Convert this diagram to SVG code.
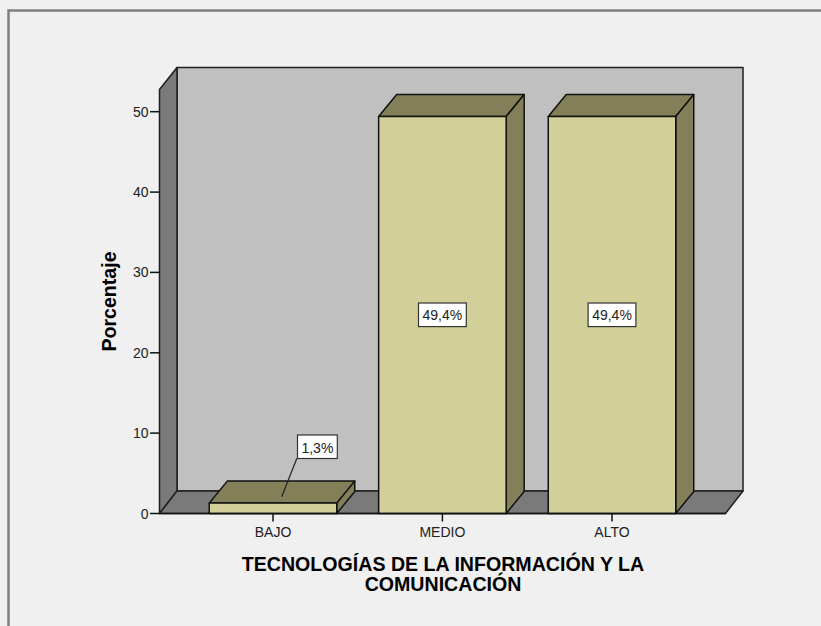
<svg xmlns="http://www.w3.org/2000/svg" width="821" height="626" viewBox="0 0 821 626">
<style>
.wall{fill:#c0c0c0;stroke:#1e1e1e;stroke-width:1.5;stroke-linejoin:round}
.dark{fill:#7a7a7a;stroke:#1e1e1e;stroke-width:1.5;stroke-linejoin:round}
.front{fill:#d3cf98;stroke:#111;stroke-width:1.5;stroke-linejoin:round}
.shade{fill:#838059;stroke:#111;stroke-width:1.5;stroke-linejoin:round}
.tick{stroke:#111;stroke-width:1.5}
.t{font-family:"Liberation Sans",Arial,sans-serif;font-size:14px;fill:#222}
.b{font-family:"Liberation Sans",Arial,sans-serif;font-size:19.6px;font-weight:bold;fill:#000}
.lbl{fill:#fff;stroke:#333;stroke-width:1.2}
</style>
<rect width="821" height="626" fill="#f0f0f0"/>
<path d="M8.5,626 V10.5 H821" fill="none" stroke="#7f7f7f" stroke-width="2.5"/>
<g id="chart-frame">
<rect class="wall" x="177" y="67.5" width="566" height="423.5"/>
<polygon class="dark" points="159.5,89.5 177,67.5 177,491 159.5,513.5"/>
<polygon class="dark" points="159.5,513.5 177,491 743,491 725.5,513.5"/>
</g>
<g id="y-axis">
<g class="tick">
<line x1="150" y1="513.5" x2="159.5" y2="513.5"/>
<line x1="150" y1="433.1" x2="159.5" y2="433.1"/>
<line x1="150" y1="352.8" x2="159.5" y2="352.8"/>
<line x1="150" y1="272.4" x2="159.5" y2="272.4"/>
<line x1="150" y1="192.1" x2="159.5" y2="192.1"/>
<line x1="150" y1="111.7" x2="159.5" y2="111.7"/>
</g>
<g class="t" text-anchor="end">
<text x="148.5" y="518.5">0</text>
<text x="148.5" y="438.1">10</text>
<text x="148.5" y="357.8">20</text>
<text x="148.5" y="277.4">30</text>
<text x="148.5" y="197.1">40</text>
<text x="148.5" y="116.7">50</text>
</g>
<text class="b" text-anchor="middle" transform="translate(116,301.5) rotate(-90)">Porcentaje</text>
</g>
<g id="bar-bajo">
<polygon class="shade" points="209.25,503.1 227.25,481.1 354.75,481.1 336.75,503.1"/>
<polygon class="shade" points="336.75,503.1 354.75,481.1 354.75,491.5 336.75,513.5"/>
<rect class="front" x="209.25" y="503.1" width="127.5" height="10.4"/>
</g>
<g id="bar-medio">
<polygon class="shade" points="378.65,116.5 396.65,94.5 524.15,94.5 506.15,116.5"/>
<polygon class="shade" points="506.15,116.5 524.15,94.5 524.15,491.5 506.15,513.5"/>
<rect class="front" x="378.65" y="116.5" width="127.5" height="397"/>
</g>
<g id="bar-alto">
<polygon class="shade" points="548.25,116.5 566.25,94.5 693.75,94.5 675.75,116.5"/>
<polygon class="shade" points="675.75,116.5 693.75,94.5 693.75,491.5 675.75,513.5"/>
<rect class="front" x="548.25" y="116.5" width="127.5" height="397"/>
</g>
<g id="x-axis">
<line class="tick" x1="159.5" y1="513.5" x2="725.5" y2="513.5"/>
<g class="tick">
<line x1="273" y1="513.5" x2="273" y2="521.5"/>
<line x1="442.4" y1="513.5" x2="442.4" y2="521.5"/>
<line x1="612" y1="513.5" x2="612" y2="521.5"/>
</g>
<g class="t" text-anchor="middle">
<text x="273" y="537">BAJO</text>
<text x="442.4" y="537">MEDIO</text>
<text x="612" y="537">ALTO</text>
</g>
<text class="b" text-anchor="middle" x="443" y="571">TECNOLOGÍAS DE LA INFORMACIÓN Y LA</text>
<text class="b" text-anchor="middle" x="443" y="590.5">COMUNICACIÓN</text>
</g>
<g id="connectors">
<line x1="296.8" y1="458.5" x2="281.7" y2="496.7" stroke="#222" stroke-width="1.2"/>
</g>
<g id="label-bajo">
<rect class="lbl" x="297.5" y="435" width="39.8" height="23.5"/>
<text class="t" x="317.4" y="452.5" text-anchor="middle" fill="#000">1,3%</text>
</g>
<g id="label-medio">
<rect class="lbl" x="418.5" y="303" width="47.8" height="23.6"/>
<text class="t" x="442.4" y="319.5" text-anchor="middle">49,4%</text>
</g>
<g id="label-alto">
<rect class="lbl" x="588.1" y="303" width="47.8" height="23.6"/>
<text class="t" x="612" y="319.5" text-anchor="middle">49,4%</text>
</g>
</svg>
